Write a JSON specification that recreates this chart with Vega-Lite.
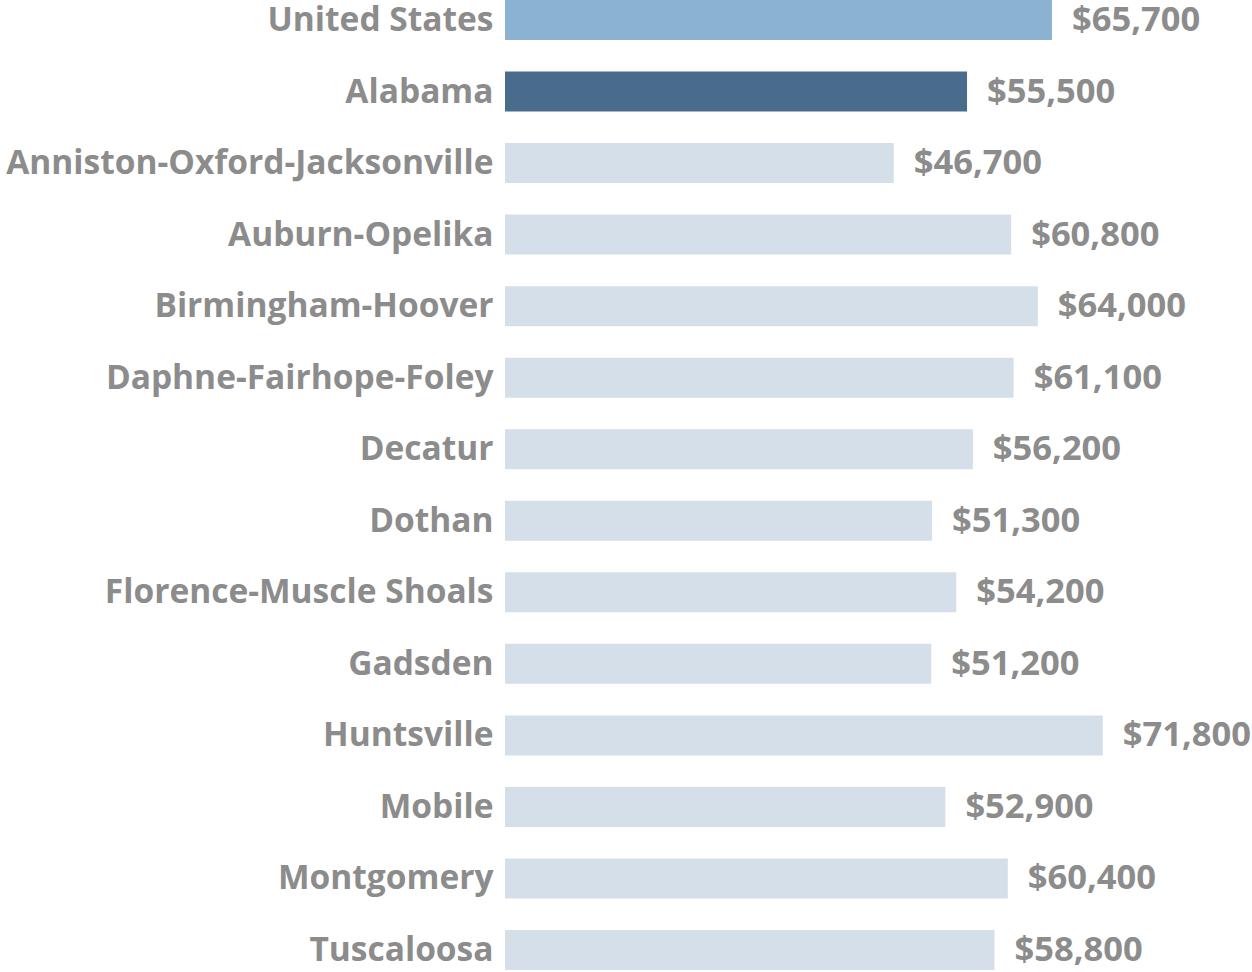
{
  "$schema": "https://vega.github.io/schema/vega-lite/v6.json",
  "autosize": {"type": "none"},
  "padding": {"left": 505, "top": 0, "right": 81, "bottom": 2},
  "width": 666,
  "height": 970,
  "background": "white",
  "config": {"view": {"stroke": null}},
  "data": {
    "values": [
      {"area": "United States", "income": 65700, "level": "Nation"},
      {"area": "Alabama", "income": 55500, "level": "State"},
      {"area": "Anniston-Oxford-Jacksonville", "income": 46700, "level": "Metro"},
      {"area": "Auburn-Opelika", "income": 60800, "level": "Metro"},
      {"area": "Birmingham-Hoover", "income": 64000, "level": "Metro"},
      {"area": "Daphne-Fairhope-Foley", "income": 61100, "level": "Metro"},
      {"area": "Decatur", "income": 56200, "level": "Metro"},
      {"area": "Dothan", "income": 51300, "level": "Metro"},
      {"area": "Florence-Muscle Shoals", "income": 54200, "level": "Metro"},
      {"area": "Gadsden", "income": 51200, "level": "Metro"},
      {"area": "Huntsville", "income": 71800, "level": "Metro"},
      {"area": "Mobile", "income": 52900, "level": "Metro"},
      {"area": "Montgomery", "income": 60400, "level": "Metro"},
      {"area": "Tuscaloosa", "income": 58800, "level": "Metro"}
    ]
  },
  "encoding": {
    "y": {
      "field": "area",
      "type": "nominal",
      "sort": null,
      "scale": {"paddingInner": 0.441, "paddingOuter": 0},
      "axis": {
        "title": null,
        "ticks": false,
        "domain": false,
        "labelPadding": 12,
        "labelFont": "Open Sans",
        "labelFontWeight": "bold",
        "labelFontSize": 33.5,
        "labelColor": "#8c8c8c",
        "labelLimit": 0,
        "labelOffset": 1
      }
    },
    "x": {
      "field": "income",
      "type": "quantitative",
      "scale": {"domain": [0, 80000], "nice": false},
      "axis": null
    }
  },
  "layer": [
    {
      "mark": {"type": "bar"},
      "encoding": {
        "color": {
          "field": "level",
          "type": "nominal",
          "scale": {"domain": ["Nation", "State", "Metro"], "range": ["#8bb3d1", "#4a6c8c", "#d5dfe9"]},
          "legend": null
        }
      }
    },
    {
      "mark": {
        "type": "text",
        "align": "left",
        "baseline": "middle",
        "dx": 20,
        "dy": 1,
        "font": "Open Sans",
        "fontWeight": "bold",
        "fontSize": 34.5,
        "color": "#8c8c8c"
      },
      "encoding": {
        "text": {"field": "income", "type": "quantitative", "format": "$,.0f"}
      }
    }
  ]
}
